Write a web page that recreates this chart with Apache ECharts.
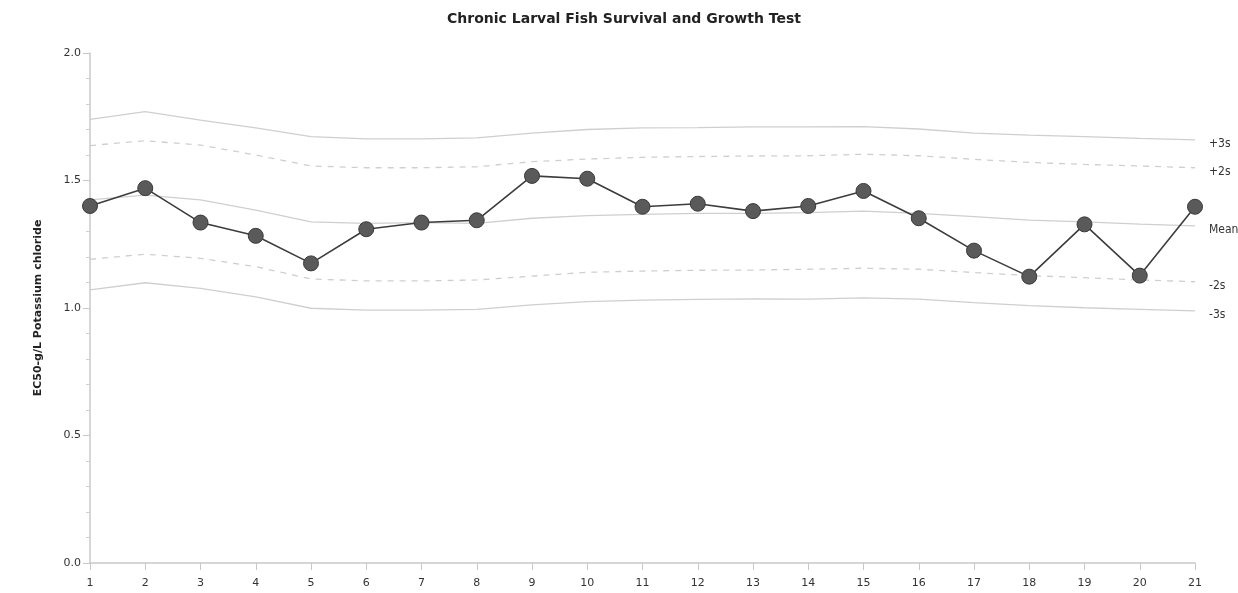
<!DOCTYPE html>
<html>
<head>
<meta charset="utf-8">
<title>Chronic Larval Fish Survival and Growth Test</title>
<script src="https://cdn.jsdelivr.net/npm/echarts@6/dist/echarts.min.js"></script>
<style>
  html, body { margin: 0; padding: 0; background: #fff; }
  #chart { width: 1238px; height: 593px; }
</style>
</head>
<body>
<div id="chart"></div>
<script>
// Test number (x axis categories)
const tests = ['1','2','3','4','5','6','7','8','9','10','11','12','13','14','15','16','17','18','19','20','21'];

// EC50 results, g/L potassium chloride
const ec50 = [1.40, 1.47, 1.335, 1.283, 1.175, 1.309, 1.335, 1.344, 1.518, 1.507, 1.397,
              1.409, 1.380, 1.400, 1.459, 1.352, 1.225, 1.123, 1.328, 1.127, 1.397];

// Running control limits
const plus3s = [1.74, 1.77, 1.737, 1.706, 1.672, 1.663, 1.663, 1.667, 1.686, 1.700, 1.706,
                1.707, 1.710, 1.710, 1.711, 1.702, 1.686, 1.678, 1.672, 1.665, 1.659];
const plus2s = [1.637, 1.656, 1.639, 1.600, 1.557, 1.550, 1.550, 1.554, 1.574, 1.584, 1.591,
                1.594, 1.596, 1.597, 1.603, 1.597, 1.583, 1.571, 1.563, 1.557, 1.550];
const mean   = [1.424, 1.443, 1.424, 1.384, 1.338, 1.332, 1.335, 1.332, 1.352, 1.362, 1.367,
                1.371, 1.371, 1.374, 1.380, 1.371, 1.358, 1.345, 1.338, 1.329, 1.322];
const minus2s = [1.191, 1.211, 1.195, 1.162, 1.114, 1.106, 1.106, 1.110, 1.125, 1.140, 1.145,
                 1.148, 1.149, 1.152, 1.156, 1.152, 1.139, 1.127, 1.119, 1.110, 1.103];
const minus3s = [1.071, 1.099, 1.077, 1.044, 0.999, 0.992, 0.992, 0.995, 1.012, 1.025, 1.031,
                 1.034, 1.036, 1.035, 1.040, 1.035, 1.021, 1.009, 1.001, 0.995, 0.989];

// Y axis tick values
const yTicks = [0.0, 0.5, 1.0, 1.5, 2.0];

const FONT = '"DejaVu Sans", Verdana, sans-serif';
const FONT_NARROW = '"DejaVu Sans Condensed", "DejaVu Sans", sans-serif';

function limitSeries(name, data, dashed) {
  return {
    name: name,
    type: 'line',
    data: data,
    symbol: 'none',
    silent: true,
    z: 1,
    lineStyle: { color: '#cfcfcf', width: 1.3, type: dashed ? [6, 6] : 'solid' },
    endLabel: {
      show: true,
      formatter: name,
      offset: [6, 4],
      color: '#333',
      fontFamily: FONT_NARROW,
      fontSize: 12
    }
  };
}

const chart = echarts.init(document.getElementById('chart'), null, { renderer: 'canvas' });

chart.setOption({
  backgroundColor: '#ffffff',
  animation: false,
  title: {
    text: 'Chronic Larval Fish Survival and Growth Test',
    left: 619,
    textAlign: 'center',
    top: 7,
    textStyle: { fontFamily: FONT, fontSize: 14, fontWeight: 'bold', color: '#222' }
  },
  grid: { left: 90, right: 43, top: 53, bottom: 30, containLabel: false },
  xAxis: {
    type: 'category',
    data: tests,
    boundaryGap: false,
    axisLine: { lineStyle: { color: '#c8c8c8', width: 1.5 } },
    axisTick: { show: true, length: 7, lineStyle: { color: '#c8c8c8' } },
    axisLabel: { color: '#333', fontFamily: FONT, fontSize: 11, margin: 15 },
    splitLine: { show: false }
  },
  yAxis: {
    type: 'value',
    min: yTicks[0],
    max: yTicks[yTicks.length - 1],
    interval: 0.5,
    name: 'EC50-g/L Potassium chloride',
    nameLocation: 'middle',
    nameGap: 46,
    nameRotate: 90,
    nameTextStyle: { fontFamily: FONT, fontSize: 11, fontWeight: 'bold', color: '#222' },
    axisLine: { show: true, lineStyle: { color: '#c8c8c8', width: 1.5 } },
    axisTick: { show: true, length: 7, lineStyle: { color: '#c8c8c8' } },
    minorTick: { show: true, splitNumber: 5, length: 4, lineStyle: { color: '#d0d0d0' } },
    axisLabel: {
      color: '#333', fontFamily: FONT, fontSize: 11, margin: 9,
      formatter: v => v.toFixed(1)
    },
    splitLine: { show: false }
  },
  series: [
    limitSeries('+3s', plus3s, false),
    limitSeries('+2s', plus2s, true),
    limitSeries('Mean', mean, false),
    limitSeries('-2s', minus2s, true),
    limitSeries('-3s', minus3s, false),
    {
      name: 'EC50',
      type: 'line',
      data: ec50,
      z: 5,
      symbol: 'circle',
      symbolSize: 15,
      itemStyle: { color: '#5a5a5a', borderColor: '#3a3a3a', borderWidth: 1 },
      lineStyle: { color: '#3c3c3c', width: 1.6 }
    }
  ]
});
</script>
</body>
</html>
